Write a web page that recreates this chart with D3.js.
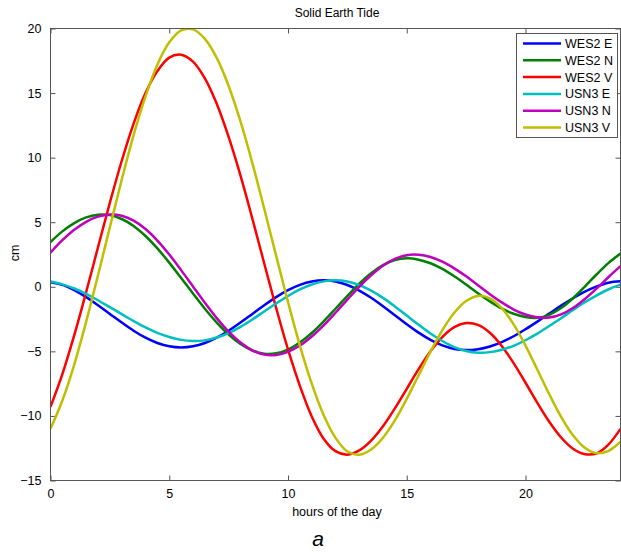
<!DOCTYPE html>
<html>
<head>
<meta charset="utf-8">
<script src="https://cdn.jsdelivr.net/npm/d3@7"></script>
<style>
  body { margin: 0; background: #fff; }
  text { font-family: "Liberation Sans", Arial, sans-serif; fill: #000; }
</style>
</head>
<body>
<svg id="chart" width="621" height="553"></svg>
<script>

// hours of the day, every half hour
const hours = [0, 0.5, 1, 1.5, 2, 2.5, 3, 3.5, 4, 4.5, 5, 5.5, 6, 6.5, 7, 7.5, 8, 8.5, 9, 9.5,
               10, 10.5, 11, 11.5, 12, 12.5, 13, 13.5, 14, 14.5, 15, 15.5, 16, 16.5, 17, 17.5, 18, 18.5, 19, 19.5,
               20, 20.5, 21, 21.5, 22, 22.5, 23, 23.5, 24];

const wes2_e = [0.35, 0.15, -0.26, -0.8, -1.43, -2.1, -2.77, -3.4, -3.94, -4.35, -4.61, -4.7, -4.61, -4.35, -3.94, -3.4, -2.77, -2.1, -1.43, -0.8,
                -0.26, 0.15, 0.41, 0.5, 0.41, 0.14, -0.29, -0.85, -1.5, -2.2, -2.9, -3.55, -4.11, -4.54, -4.81, -4.9, -4.83, -4.62, -4.28, -3.83,
                -3.29, -2.7, -2.08, -1.46, -0.89, -0.38, 0.03, 0.32, 0.42];
const wes2_n = [3.47, 4.29, 4.93, 5.37, 5.58, 5.55, 5.25, 4.71, 3.93, 2.97, 1.87, 0.68, -0.52, -1.7, -2.77, -3.7, -4.43, -4.94, -5.18, -5.15,
                -4.86, -4.32, -3.58, -2.68, -1.7, -0.71, 0.24, 1.05, 1.67, 2.07, 2.2, 2.1, 1.82, 1.38, 0.81, 0.17, -0.5, -1.13, -1.68, -2.09,
                -2.34, -2.4, -2.17, -1.65, -0.89, 0.02, 0.97, 1.85, 2.58];
const wes2_v = [-9.3, -6.77, -3.75, -0.42, 3.06, 6.52, 9.76, 12.64, 15.0, 16.7, 17.75, 17.97, 17.44, 16.14, 14.17, 11.6, 8.6, 5.27, 1.8, -1.63,
                -4.85, -7.67, -10.04, -11.76, -12.73, -13.0, -12.67, -11.91, -10.8, -9.42, -7.9, -6.38, -5.0, -3.89, -3.13, -2.81, -2.95, -3.56, -4.58, -5.91,
                -7.43, -8.99, -10.45, -11.67, -12.54, -12.96, -12.9, -12.2, -11.0];
const usn3_e = [0.41, 0.19, -0.13, -0.55, -1.04, -1.58, -2.12, -2.66, -3.15, -3.57, -3.89, -4.11, -4.2, -4.15, -3.93, -3.58, -3.1, -2.53, -1.91, -1.29,
                -0.71, -0.21, 0.18, 0.42, 0.5, 0.41, 0.14, -0.3, -0.86, -1.52, -2.23, -2.94, -3.62, -4.2, -4.67, -4.97, -5.1, -5.06, -4.88, -4.57,
                -4.14, -3.63, -3.04, -2.43, -1.8, -1.2, -0.66, -0.19, 0.17];
const usn3_n = [2.65, 3.61, 4.41, 5.03, 5.43, 5.6, 5.5, 5.12, 4.47, 3.58, 2.5, 1.29, 0.02, -1.24, -2.43, -3.48, -4.32, -4.92, -5.25, -5.28,
                -5.04, -4.55, -3.85, -2.99, -2.01, -0.99, 0.0, 0.89, 1.63, 2.16, 2.45, 2.48, 2.31, 1.95, 1.43, 0.81, 0.12, -0.57, -1.21, -1.76,
                -2.15, -2.36, -2.38, -2.13, -1.64, -0.94, -0.12, 0.76, 1.6];
const usn3_v = [-11.0, -8.81, -6.02, -2.72, 0.89, 4.62, 8.3, 11.75, 14.75, 17.2, 18.93, 19.86, 19.93, 19.2, 17.72, 15.55, 12.8, 9.58, 6.04, 2.41,
                -1.18, -4.55, -7.5, -9.93, -11.7, -12.75, -13.0, -12.6, -11.69, -10.35, -8.68, -6.85, -5.02, -3.36, -2.01, -1.1, -0.71, -0.89, -1.65, -2.91,
                -4.55, -6.42, -8.32, -10.07, -11.5, -12.47, -12.89, -12.7, -12.0];

const series_names = ["WES2 E", "WES2 N", "WES2 V", "USN3 E", "USN3 N", "USN3 V"];
const series_values = [wes2_e, wes2_n, wes2_v, usn3_e, usn3_n, usn3_v];
const series_colors = ["#0000ff", "#008000", "#ff0000", "#00bfbf", "#bf00bf", "#bfbf00"];

const x_ticks = [0, 5, 10, 15, 20];
const y_ticks = [-15, -10, -5, 0, 5, 10, 15, 20];

const svg = d3.select("#chart");

const plotLeft = 50.5, plotRight = 620.5, plotTop = 28.5, plotBottom = 480.5;
const axis_color = "#555";

const xScale = d3.scaleLinear().domain([0, 24]).range([plotLeft, plotRight]);
const yScale = d3.scaleLinear().domain([-15, 20]).range([plotBottom, plotTop]);

svg.append("defs").append("clipPath")
   .attr("id", "plot-clip")
   .append("rect")
   .attr("x", plotLeft).attr("y", plotTop)
   .attr("width", plotRight - plotLeft).attr("height", plotBottom - plotTop);

// axes (ticks point inward, like the original)
function style_axis(g) {
    g.select(".domain").remove();
    g.selectAll(".tick line").attr("stroke", axis_color);
    g.selectAll(".tick text").style("font-size", "12.5px").attr("fill", "#000");
}

svg.append("g")
   .attr("transform", `translate(0,${plotBottom})`)
   .call(d3.axisBottom(xScale).tickValues(x_ticks).tickSizeInner(-5).tickPadding(9).tickFormat(d3.format("d")))
   .call(style_axis);

svg.append("g")
   .attr("transform", `translate(0,${plotTop})`)
   .call(d3.axisTop(xScale).tickValues(x_ticks).tickSizeInner(-5).tickFormat(""))
   .call(style_axis);

svg.append("g")
   .attr("transform", `translate(${plotLeft},0)`)
   .call(d3.axisLeft(yScale).tickValues(y_ticks).tickSizeInner(-5).tickPadding(9).tickFormat(d3.format("d")))
   .call(style_axis);

svg.append("g")
   .attr("transform", `translate(${plotRight},0)`)
   .call(d3.axisRight(yScale).tickValues(y_ticks).tickSizeInner(-5).tickFormat(""))
   .call(style_axis);

// lines
const line = d3.line()
               .x((d, i) => xScale(hours[i]))
               .y(d => yScale(d))
               .curve(d3.curveCatmullRom);

svg.append("g")
   .attr("clip-path", "url(#plot-clip)")
   .selectAll("path")
   .data(series_values)
   .enter()
   .append("path")
   .attr("d", d => line(d))
   .attr("fill", "none")
   .attr("stroke", (d, i) => series_colors[i])
   .attr("stroke-width", 2.5);

// plot box
svg.append("rect")
   .attr("x", plotLeft).attr("y", plotTop)
   .attr("width", plotRight - plotLeft).attr("height", plotBottom - plotTop)
   .attr("fill", "none")
   .attr("stroke", axis_color)
   .attr("stroke-width", 1);

// texts
svg.append("text")
   .attr("x", 337).attr("y", 17)
   .attr("text-anchor", "middle")
   .style("font-size", "12px")
   .text("Solid Earth Tide");

svg.append("text")
   .attr("x", 337).attr("y", 516)
   .attr("text-anchor", "middle")
   .style("font-size", "12.5px")
   .text("hours of the day");

svg.append("text")
   .attr("transform", "translate(19,253) rotate(-90)")
   .attr("text-anchor", "middle")
   .style("font-size", "12.5px")
   .text("cm");

svg.append("text")
   .attr("x", 318).attr("y", 546)
   .attr("text-anchor", "middle")
   .style("font-size", "21px")
   .style("font-style", "italic")
   .text("a");

// legend
const legend = svg.append("g");

legend.append("rect")
      .attr("x", 516.5).attr("y", 33.5)
      .attr("width", 101).attr("height", 104)
      .attr("fill", "#fff")
      .attr("stroke", axis_color);

const rows = legend.selectAll("g.row")
                   .data(series_names)
                   .enter()
                   .append("g")
                   .attr("class", "row")
                   .attr("transform", (d, i) => `translate(0,${43.5 + i * 16.8})`);

rows.append("line")
    .attr("x1", 523).attr("x2", 561)
    .attr("y1", 0).attr("y2", 0)
    .attr("stroke", (d, i) => series_colors[i])
    .attr("stroke-width", 2.5);

rows.append("text")
    .attr("x", 565).attr("y", 4.5)
    .style("font-size", "12.5px")
    .text(d => d);

</script>
</body>
</html>
